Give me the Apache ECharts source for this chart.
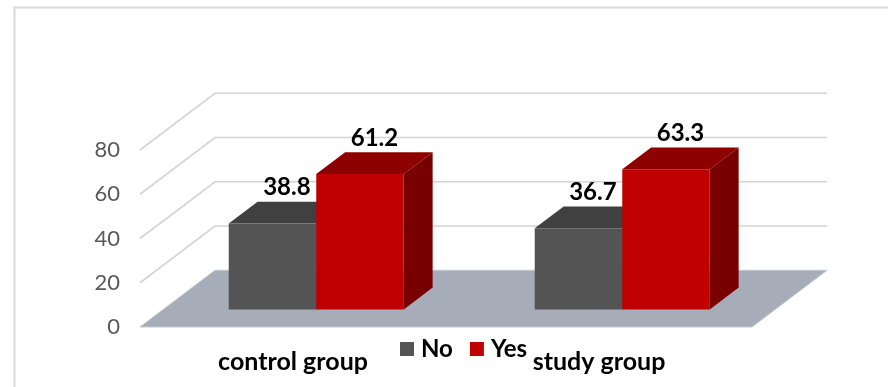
<!DOCTYPE html>
<html>
<head>
<meta charset="utf-8">
<script src="https://cdn.jsdelivr.net/npm/echarts@6/dist/echarts.min.js"></script>
<style>
html,body{margin:0;padding:0;background:#fff;}
#chart{width:888px;height:387px;}
</style>
</head>
<body>
<div id="chart"></div>
<script>
const categories = ['control group', 'study group'];
const seriesNames = ['No', 'Yes'];
const noValues = [38.8, 36.7];
const yesValues = [61.2, 63.3];
const yTicks = [0, 20, 40, 60, 80];

const colors = {
  No: { front: '#545454', top: '#404040', side: '#2e2e2e' },
  Yes: { front: '#c00000', top: '#8e0000', side: '#780000' }
};
const DEPTH = { x: 75, y: -56.7 };  // full floor depth vector (px)
const BAR_D0 = 0.31, BAR_DD = 0.385, BAR_W = 0.286;
const FONT = 'Lato, "Liberation Sans", sans-serif';

const chart = echarts.init(document.getElementById('chart'));

function barRender(side) {
  return function (params, api) {
    const idx = api.value(0), val = api.value(1);
    const c0 = api.coord([idx, 0]);
    const c1 = api.coord([idx, val]);
    const band = api.size([1, 0])[0];
    const bw = band * BAR_W;
    const sx = DEPTH.x * BAR_D0, sy = DEPTH.y * BAR_D0;
    const xl = c0[0] + sx + (side === 0 ? -bw : 0);
    const xr = xl + bw;
    const yb = c0[1] + sy;
    const yt = c1[1] + sy;
    const dx = DEPTH.x * BAR_DD, dy = DEPTH.y * BAR_DD;
    const col = colors[seriesNames[side]];
    return {
      type: 'group',
      children: [
        { type: 'polygon', shape: { points: [[xr, yt], [xr + dx, yt + dy], [xr + dx, yb + dy], [xr, yb]] }, style: { fill: col.side } },
        { type: 'polygon', shape: { points: [[xl, yt], [xr, yt], [xr + dx, yt + dy], [xl + dx, yt + dy]] }, style: { fill: col.top } },
        { type: 'rect', shape: { x: xl, y: yt, width: bw, height: yb - yt }, style: { fill: col.front } },
        { type: 'text', x: (xl + xr) / 2 + dx / 2, y: yt + dy - 14,
          style: { text: String(val), font: 'bold 24px ' + FONT, fill: '#000', align: 'center', verticalAlign: 'middle' } }
      ]
    };
  };
}

function wallRender(params, api) {
  const v = api.value(0);
  const band = api.size([1, 0])[0];
  const left = api.coord([0, v]);
  const right = api.coord([categories.length - 1, v]);
  const xL = left[0] - band / 2, xR = right[0] + band / 2, y = left[1];
  if (v === 0) {
    return {
      type: 'polygon',
      shape: { points: [[xL, y], [xL + DEPTH.x, y + DEPTH.y], [xR + DEPTH.x, y + DEPTH.y], [xR, y]] },
      style: { fill: '#a6adb8', stroke: '#c3c8cf', lineWidth: 1 }
    };
  }
  return {
    type: 'polyline',
    shape: { points: [[xL, y], [xL + DEPTH.x, y + DEPTH.y], [xR + DEPTH.x, y + DEPTH.y]] },
    style: { stroke: '#d4d4d4', lineWidth: 1.6, fill: null }
  };
}

const option = {
  animation: false,
  backgroundColor: '#fff',
  graphic: [{
    type: 'rect', left: 12, top: 5, shape: { width: 900, height: 400 },
    style: { fill: null, stroke: '#d9d9d9', lineWidth: 2 }, z: -10
  }],
  grid: { left: 140, right: 136, top: 150, bottom: 60 },
  legend: {
    data: seriesNames, left: 400, top: 337, padding: 0,
    icon: 'rect', itemWidth: 14, itemHeight: 14, itemGap: 17,
    textStyle: { fontFamily: FONT, fontWeight: 'bold', fontSize: 24, color: '#000', padding: [0, 0, 0, 2] }
  },
  xAxis: {
    type: 'category', data: categories,
    axisLine: { show: false }, axisTick: { show: false }, splitLine: { show: false },
    axisLabel: { fontFamily: FONT, fontWeight: 'bold', fontSize: 25, color: '#000', margin: 22 }
  },
  yAxis: {
    type: 'value', min: 0, max: 80, interval: 20,
    axisLine: { show: false }, axisTick: { show: false }, splitLine: { show: false },
    axisLabel: { fontFamily: FONT, fontSize: 22, color: '#595959', margin: 20 }
  },
  series: [
    { type: 'custom', name: 'wall', renderItem: wallRender, data: yTicks.map(v => [v]),
      encode: { y: 0 }, z: 1, silent: true },
    { type: 'custom', name: 'No', renderItem: barRender(0), itemStyle: { color: colors.No.front },
      data: noValues.map((v, i) => [i, v]), encode: { x: 0, y: 1 }, z: 2 },
    { type: 'custom', name: 'Yes', renderItem: barRender(1), itemStyle: { color: colors.Yes.front },
      data: yesValues.map((v, i) => [i, v]), encode: { x: 0, y: 1 }, z: 3 }
  ]
};
chart.setOption(option);
</script>
</body>
</html>
